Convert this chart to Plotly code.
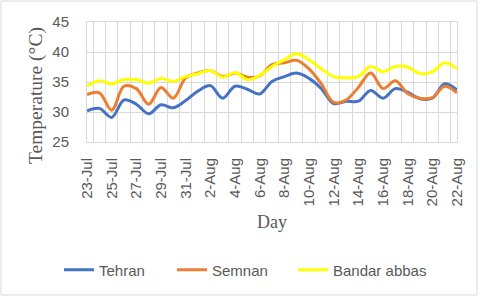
import plotly.graph_objects as go

days = ["23-Jul", "24-Jul", "25-Jul", "26-Jul", "27-Jul", "28-Jul", "29-Jul", "30-Jul",
        "31-Jul", "1-Aug", "2-Aug", "3-Aug", "4-Aug", "5-Aug", "6-Aug", "7-Aug",
        "8-Aug", "9-Aug", "10-Aug", "11-Aug", "12-Aug", "13-Aug", "14-Aug", "15-Aug",
        "16-Aug", "17-Aug", "18-Aug", "19-Aug", "20-Aug", "21-Aug", "22-Aug"]

tehran = [30.2, 30.6, 29.1, 32.0, 31.3, 29.7, 31.2, 30.7, 31.9, 33.5, 34.4, 32.3, 34.3,
          33.8, 33.0, 35.1, 35.9, 36.5, 35.6, 33.9, 31.4, 31.8, 31.8, 33.6, 32.3, 33.9,
          33.3, 32.2, 32.3, 34.7, 33.7]
semnan = [32.9, 33.2, 30.3, 34.3, 33.9, 31.3, 34.1, 32.3, 35.7, 36.5, 36.9, 35.9, 36.5,
          35.8, 36.0, 37.9, 38.2, 38.6, 37.2, 34.7, 31.6, 32.0, 34.1, 36.5, 33.9, 35.2,
          33.1, 32.3, 32.4, 34.3, 33.2]
bandar = [34.3, 35.2, 34.7, 35.4, 35.4, 34.8, 35.6, 35.1, 35.9, 36.4, 36.9, 35.8, 36.6,
          35.4, 36.1, 37.6, 38.7, 39.7, 38.7, 37.2, 35.9, 35.7, 35.9, 37.6, 36.7, 37.6,
          37.5, 36.4, 36.7, 38.2, 37.2]

tick_text = [d if i % 2 == 0 else "" for i, d in enumerate(days)]

series = [("Tehran", tehran, "#4472C4"),
          ("Semnan", semnan, "#ED7D31"),
          ("Bandar abbas", bandar, "#FFFF00")]

L, R, T, B = 87, 23, 22, 158
W, H = 480, 300
pw, ph = W - L - R, H - T - B
grid = "#D9D9D9"
tick_font = dict(family="Liberation Sans, Arial, sans-serif", size=15, color="#595959")
title_font = dict(family="Liberation Serif, Times New Roman, serif", size=18, color="#595959")

legend_names = ["legend", "legend2", "legend3"]
legend_left_px = [59, 172, 293]

fig = go.Figure()
for (name, vals, color), lg in zip(series, legend_names):
    fig.add_trace(go.Scatter(x=days, y=vals, name=name, mode="lines", legend=lg,
                             line=dict(color=color, width=3, shape="spline")))

legend_layout = {}
for lg, xpx in zip(legend_names, legend_left_px):
    legend_layout[lg] = dict(orientation="h", xref="container", yref="container",
                             x=xpx / W, xanchor="left", y=1 - 270 / H, yanchor="middle",
                             font=tick_font, itemwidth=30, bgcolor="rgba(0,0,0,0)")

fig.update_layout(
    width=W, height=H,
    margin=dict(l=L, r=R, t=T, b=B, autoexpand=False),
    paper_bgcolor="white", plot_bgcolor="white",
    showlegend=True,
    **legend_layout,
    xaxis=dict(type="category", tickmode="array", tickvals=days, ticktext=tick_text,
               tickson="boundaries", tickangle=-90, showgrid=True, gridcolor=grid,
               gridwidth=1, ticks="", showline=True, linecolor=grid, mirror=True,
               tickfont=tick_font, automargin=False, ticklabelstandoff=9,
               title=dict(text="Day", font=title_font, standoff=10)),
    yaxis=dict(range=[25, 45], dtick=5, showgrid=True, gridcolor=grid, gridwidth=1,
               ticks="", showline=True, linecolor=grid, mirror=True, zeroline=False,
               tickfont=tick_font, automargin=False, ticklabelstandoff=14),
)

# y-axis title placed where the reference shows it
fig.add_annotation(text="Temperature (°C)", textangle=-90, showarrow=False,
                   xref="paper", yref="paper",
                   x=(36 - L) / pw, y=(H - B - 96) / ph, xanchor="center", yanchor="middle",
                   font=dict(family="Liberation Serif, Times New Roman, serif", size=19.5,
                             color="#595959"))

# outer chart border
fig.add_shape(type="rect", xref="paper", yref="paper",
              x0=(1 - L) / pw, x1=(477 - L) / pw,
              y0=(H - B - 295) / ph, y1=(H - B - 1) / ph,
              line=dict(color="#D9D9D9", width=1), fillcolor="rgba(0,0,0,0)", layer="below")

fig.write_html("out.html", config={"displayModeBar": False},
               post_script="document.body.style.margin='0';")
